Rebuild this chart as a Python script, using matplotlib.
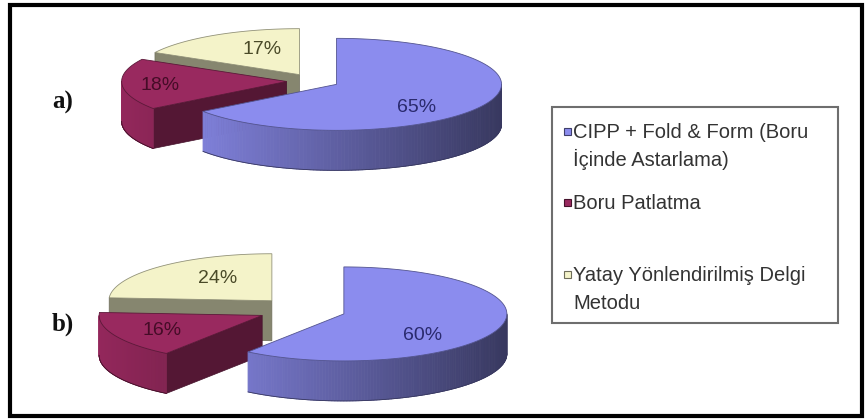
import numpy as np
import matplotlib.pyplot as plt
from matplotlib.patches import Polygon, Rectangle
from matplotlib.collections import PolyCollection
from matplotlib.colors import to_rgb

# methods and their shares (%) for the two cases
methods = ['CIPP + Fold & Form (Boru\nİçinde Astarlama)',
           'Boru Patlatma',
           'Yatay Yönlendirilmiş Delgi\nMetodu']
shares_a = [65, 18, 17]
shares_b = [60, 16, 24]
panel_names = ['a)', 'b)']

colors = ['#8b8cee', '#99295f', '#f4f3c9']
label_colors = ['#2a2a6e', '#450c27', '#4a4a28']


def shade(col, f):
    return tuple(np.clip(np.array(to_rgb(col)) * f, 0, 1))


def pie3d(ax, values, cx, cy, rx, ry, depth, explode, label_xy):
    total = float(sum(values))
    bounds = []
    start = 0.0
    for v in values:
        span = 360.0 * v / total
        bounds.append((start, start + span))
        start += span

    # back slices first so the front ones cover them
    for i in reversed(range(len(values))):
        a0, a1 = bounds[i]
        mid = np.radians((a0 + a1) / 2)
        ox = cx + explode * rx * np.sin(mid)
        oy = cy - explode * ry * np.cos(mid)
        col = colors[i]

        # radial cut faces that look toward the viewer
        for ang, vis in ((a0, np.sin(np.radians(a0)) < -1e-6),
                         (a1, np.sin(np.radians(a1)) > 1e-6)):
            if not vis:
                continue
            r = np.radians(ang)
            px = ox + rx * np.sin(r)
            py = oy - ry * np.cos(r)
            ax.add_patch(Polygon([(ox, oy), (px, py), (px, py + depth), (ox, oy + depth)],
                                 closed=True, facecolor=shade(col, 0.55),
                                 edgecolor=shade(col, 0.45), lw=0.5))

        # outer wall, front half only
        lo, hi = max(a0, 90.0), min(a1, 270.0)
        if hi > lo:
            steps = np.radians(np.linspace(lo, hi, 120))
            quads, fcs = [], []
            for k in range(len(steps) - 1):
                p, q = steps[k], steps[k + 1]
                x0, y0 = ox + rx * np.sin(p), oy - ry * np.cos(p)
                x1, y1 = ox + rx * np.sin(q), oy - ry * np.cos(q)
                quads.append([(x0, y0), (x1, y1), (x1, y1 + depth), (x0, y0 + depth)])
                fcs.append(shade(col, 0.68 - 0.28 * np.sin((p + q) / 2)))
            ax.add_collection(PolyCollection(quads, facecolors=fcs, edgecolors=fcs, lw=0.6))
            bot = np.radians(np.linspace(lo, hi, 120))
            ax.plot(ox + rx * np.sin(bot), oy - ry * np.cos(bot) + depth,
                    color=shade(col, 0.4), lw=0.6)

        # top face
        phi = np.radians(np.linspace(a0, a1, 200))
        pts = [(ox, oy)] + list(zip(ox + rx * np.sin(phi), oy - ry * np.cos(phi)))
        ax.add_patch(Polygon(pts, closed=True, facecolor=col,
                             edgecolor=shade(col, 0.6), lw=0.6))

        lx, ly = label_xy[i]
        ax.text(lx, ly, f'{values[i]}%', ha='center', va='center',
                fontsize=14, family='Liberation Sans', color=label_colors[i])


fig = plt.figure(figsize=(8.65, 4.19), dpi=100)
ax = fig.add_axes([0, 0, 1, 1])
ax.set_xlim(0, 865)
ax.set_ylim(419, 0)
ax.axis('off')

# outer frame
ax.add_patch(Rectangle((10, 5), 852, 411, fill=False, edgecolor='black', lw=3))

pie3d(ax, shares_a, 313, 81, 165, 46, 40, 0.16,
      [(417, 107), (160, 85), (262, 50)])
pie3d(ax, shares_b, 302, 310, 163, 47, 40, 0.27,
      [(423, 335), (162, 330), (218, 278)])

for name, y in zip(panel_names, [102, 324]):
    ax.text(52, y, name, ha='left', va='center', fontsize=18,
            family='Liberation Serif', weight='bold', color='#111111')

# legend
ax.add_patch(Rectangle((552, 107), 286, 216, fill=False, edgecolor='#6e6e6e', lw=1.5))
baselines = [138, 209, 281]
for name, col, y in zip(methods, colors, baselines):
    ax.add_patch(Rectangle((564, y - 10), 7, 7, facecolor=col,
                           edgecolor=shade(col, 0.45), lw=0.8))
    for j, line in enumerate(name.split('\n')):
        ax.text(573, y + 28 * j, line, ha='left', va='baseline', fontsize=14.5,
                family='Liberation Sans', color='#333333')

fig.savefig('out.png', dpi=100, facecolor='white')
